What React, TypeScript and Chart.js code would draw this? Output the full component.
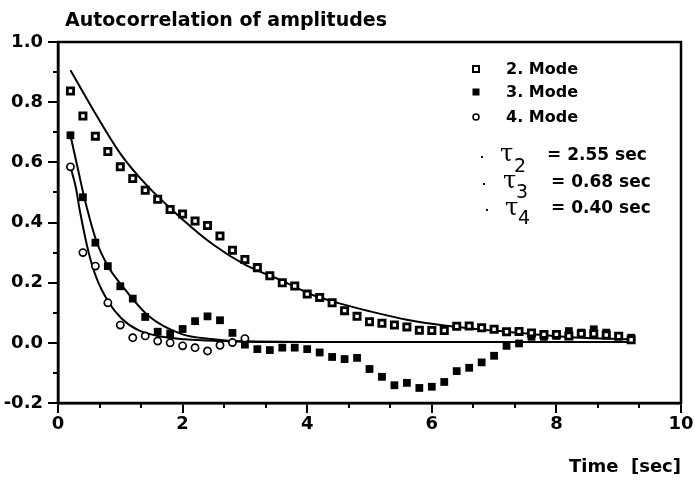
import React, { useEffect, useRef } from 'react';
import { Chart, registerables } from 'chart.js';

Chart.register(...registerables);

// ---- data ----
const times = [
  0.2, 0.4, 0.6, 0.8, 1.0, 1.2, 1.4, 1.6, 1.8, 2.0,
  2.2, 2.4, 2.6, 2.8, 3.0, 3.2, 3.4, 3.6, 3.8, 4.0,
  4.2, 4.4, 4.6, 4.8, 5.0, 5.2, 5.4, 5.6, 5.8, 6.0,
  6.2, 6.4, 6.6, 6.8, 7.0, 7.2, 7.4, 7.6, 7.8, 8.0,
  8.2, 8.4, 8.6, 8.8, 9.0, 9.2,
];

const mode2 = [
  0.837, 0.754, 0.687, 0.636, 0.585, 0.546, 0.507, 0.477, 0.443, 0.428,
  0.405, 0.39, 0.355, 0.308, 0.277, 0.25, 0.223, 0.2, 0.189, 0.162,
  0.151, 0.133, 0.107, 0.088, 0.07, 0.065, 0.059, 0.053, 0.042, 0.041,
  0.041, 0.055, 0.056, 0.05, 0.045, 0.037, 0.038, 0.033, 0.028, 0.028,
  0.023, 0.03, 0.03, 0.026, 0.022, 0.01,
];

const mode3 = [
  0.69, 0.484, 0.333, 0.255, 0.188, 0.147, 0.086, 0.037, 0.031, 0.046,
  0.072, 0.088, 0.075, 0.033, -0.006, -0.021, -0.024, -0.016, -0.016, -0.021,
  -0.032, -0.047, -0.054, -0.05, -0.087, -0.113, -0.141, -0.133, -0.15, -0.146,
  -0.13, -0.094, -0.083, -0.065, -0.043, -0.01, -0.002, 0.02, 0.02, 0.023,
  0.039, 0.034, 0.045, 0.034, 0.023, 0.017,
];

const mode4Times = [0.2, 0.4, 0.6, 0.8, 1.0, 1.2, 1.4, 1.6, 1.8, 2.0, 2.2, 2.4, 2.6, 2.8, 3.0];
const mode4 = [
  0.585, 0.3, 0.255, 0.133, 0.059, 0.017, 0.023, 0.006, 0.0, -0.01,
  -0.016, -0.027, -0.008, 0.001, 0.014,
];

// fitted exponential curves
const fit2Time = [0.2, 0.6, 1.0, 1.4, 2.0, 2.5, 3.0, 3.6, 4.1, 4.5, 5.0, 5.6, 6.2, 7.2, 8.3, 9.2];
const fit2Value = [0.906, 0.762, 0.629, 0.529, 0.41, 0.325, 0.26, 0.206, 0.158, 0.132, 0.105, 0.077, 0.058, 0.037, 0.018, 0.012];

const fit3Time = [0.2, 0.33, 0.42, 0.62, 0.81, 1.02, 1.45, 2.0, 2.5, 3.0, 4.0, 9.2];
const fit3Value = [0.69, 0.568, 0.485, 0.336, 0.252, 0.192, 0.09, 0.028, 0.012, 0.004, 0.003, 0.003];

const fit4Time = [0.2, 0.285, 0.35, 0.49, 0.62, 0.81, 1.02, 1.29, 1.67, 2.04, 2.5, 3.0, 4.0, 9.2];
const fit4Value = [0.585, 0.518, 0.44, 0.302, 0.214, 0.136, 0.081, 0.042, 0.02, 0.012, 0.007, 0.005, 0.003, 0.003];

const legendLabels = ['2. Mode', '3. Mode', '4. Mode'];
const tauIndices = ['2', '3', '4'];
const tauValues = ['2.55', '0.68', '0.40'];

const titleText = 'Autocorrelation of amplitudes';
const xAxisTitle = 'Time  [sec]';

const xMin = 0, xMax = 10, xStep = 2;
const yMin = -0.2, yMax = 1.0, yStep = 0.2;
const xMinorTicks = [0.667, 1.333, 2.667, 3.333, 4.667, 5.333, 6.667, 7.333, 8.667, 9.333];
const yMinorTicks = [-0.1, 0.1, 0.3, 0.5, 0.7, 0.9];

const FONT = '"DejaVu Sans", "Liberation Sans", sans-serif';

const zip = (xs: number[], ys: number[]) => xs.map((x, i) => ({ x, y: ys[i] }));

const decorPlugin = {
  id: 'decor',
  afterDraw(chart: any) {
    const { ctx, chartArea: a, scales } = chart;
    const xs = scales.x;
    const ys = scales.y;
    ctx.save();
    ctx.strokeStyle = '#000';
    ctx.fillStyle = '#000';

    // frame
    ctx.lineWidth = 2.5;
    ctx.strokeRect(a.left, a.top, a.right - a.left, a.bottom - a.top);

    // minor ticks
    ctx.lineWidth = 2;
    ctx.beginPath();
    for (const v of yMinorTicks) {
      const py = Math.round(ys.getPixelForValue(v));
      ctx.moveTo(a.left - 5, py);
      ctx.lineTo(a.left, py);
    }
    for (const v of xMinorTicks) {
      const px = Math.round(xs.getPixelForValue(v));
      ctx.moveTo(px, a.bottom);
      ctx.lineTo(px, a.bottom + 5);
    }
    ctx.stroke();

    // title
    ctx.font = `bold 19px ${FONT}`;
    ctx.textAlign = 'left';
    ctx.textBaseline = 'alphabetic';
    ctx.fillText(titleText, 65, 26);

    // legend
    const lx = 476;
    const rows = [69, 92, 117];
    const textX = 506;
    const baselines = [74, 97, 122];
    ctx.lineWidth = 2;
    ctx.fillStyle = '#fff';
    ctx.fillRect(lx - 3, rows[0] - 3, 6, 6);
    ctx.strokeRect(lx - 3, rows[0] - 3, 6, 6);
    ctx.fillStyle = '#000';
    ctx.fillRect(lx - 3.5, rows[1] - 3.5, 7, 7);
    ctx.lineWidth = 1.5;
    ctx.beginPath();
    ctx.arc(lx, rows[2], 3, 0, Math.PI * 2);
    ctx.stroke();

    ctx.font = `bold 16px ${FONT}`;
    legendLabels.forEach((t, i) => ctx.fillText(t, textX, baselines[i]));

    // tau lines
    const dots = [[482, 157], [484, 184], [487, 210]];
    const tauX = [500, 503, 505];
    const tauBase = [161, 188, 215];
    const subX = [514, 516, 518];
    const subBase = [172, 198, 224];
    const eqX = [547, 551, 551];
    const eqBase = [160, 187, 213];
    tauIndices.forEach((idx, i) => {
      ctx.fillRect(dots[i][0] - 1, dots[i][1] - 1, 2, 2);
      ctx.font = `24px "DejaVu Serif", serif`;
      ctx.fillText('τ', tauX[i], tauBase[i]);
      ctx.font = `19px ${FONT}`;
      ctx.fillText(idx, subX[i], subBase[i]);
      ctx.font = `bold 17px ${FONT}`;
      ctx.fillText(`= ${tauValues[i]} sec`, eqX[i], eqBase[i]);
    });

    ctx.restore();
  },
};

export default function App() {
  const canvasRef = useRef<HTMLCanvasElement | null>(null);

  useEffect(() => {
    if (!canvasRef.current) return;
    const chart = new Chart(canvasRef.current, {
      type: 'line',
      data: {
        datasets: [
          {
            label: '2. Mode',
            data: zip(times, mode2),
            showLine: false,
            pointStyle: 'rect',
            pointRadius: 4.4,
            pointBorderWidth: 2.8,
            pointBackgroundColor: '#fff',
            pointBorderColor: '#000',
          },
          {
            label: '3. Mode',
            data: zip(times, mode3),
            showLine: false,
            pointStyle: 'rect',
            pointRadius: 5.5,
            pointBorderWidth: 0,
            pointBackgroundColor: '#000',
            pointBorderColor: '#000',
          },
          {
            label: '4. Mode',
            data: zip(mode4Times, mode4),
            showLine: false,
            pointStyle: 'circle',
            pointRadius: 3.6,
            pointBorderWidth: 1.7,
            pointBackgroundColor: '#fff',
            pointBorderColor: '#000',
          },
          {
            label: 'fit τ2',
            data: zip(fit2Time, fit2Value),
            borderColor: '#000',
            borderWidth: 2,
            pointRadius: 0,
            cubicInterpolationMode: 'monotone',
          },
          {
            label: 'fit τ3',
            data: zip(fit3Time, fit3Value),
            borderColor: '#000',
            borderWidth: 2,
            pointRadius: 0,
            cubicInterpolationMode: 'monotone',
          },
          {
            label: 'fit τ4',
            data: zip(fit4Time, fit4Value),
            borderColor: '#000',
            borderWidth: 2,
            pointRadius: 0,
            cubicInterpolationMode: 'monotone',
          },
        ],
      },
      options: {
        responsive: false,
        animation: false,
        layout: { padding: { left: 0, right: 14, top: 42, bottom: 0 } },
        plugins: {
          legend: { display: false },
          title: { display: false },
          tooltip: { enabled: false },
        },
        scales: {
          x: {
            type: 'linear',
            min: xMin,
            max: xMax,
            afterFit: (s: any) => { s.height = 78; },
            ticks: {
              stepSize: xStep,
              color: '#000',
              padding: 1,
              font: { family: FONT, size: 18, weight: 'bold' },
              maxRotation: 0,
            },
            grid: {
              color: '#000',
              lineWidth: 2,
              drawOnChartArea: false,
              drawTicks: true,
              tickLength: 10,
              tickWidth: 2,
              tickColor: '#000',
            },
            border: { display: true, color: '#000', width: 2.5 },
            title: {
              display: true,
              text: xAxisTitle,
              align: 'end',
              color: '#000',
              font: { family: FONT, size: 18, weight: 'bold' },
              padding: { top: 0, bottom: 3 },
            },
          },
          y: {
            type: 'linear',
            min: yMin,
            max: yMax,
            afterFit: (s: any) => { s.width = 58; },
            ticks: {
              stepSize: yStep,
              color: '#000',
              padding: 5,
              font: { family: FONT, size: 18, weight: 'bold' },
              callback: (v: any) => {
                const n = Number(v);
                return (Math.abs(n) < 1e-9 ? 0 : n).toFixed(1);
              },
            },
            grid: {
              color: '#000',
              lineWidth: 2,
              drawOnChartArea: false,
              drawTicks: true,
              tickLength: 10,
              tickWidth: 2,
              tickColor: '#000',
            },
            border: { display: true, color: '#000', width: 2.5 },
          },
        },
      },
      plugins: [decorPlugin],
    } as any);
    return () => chart.destroy();
  }, []);

  return (
    <div style={{ position: 'absolute', left: 0, top: 0, width: 695, height: 481, background: '#fff' }}>
      <canvas ref={canvasRef} width={695} height={481} />
    </div>
  );
}
